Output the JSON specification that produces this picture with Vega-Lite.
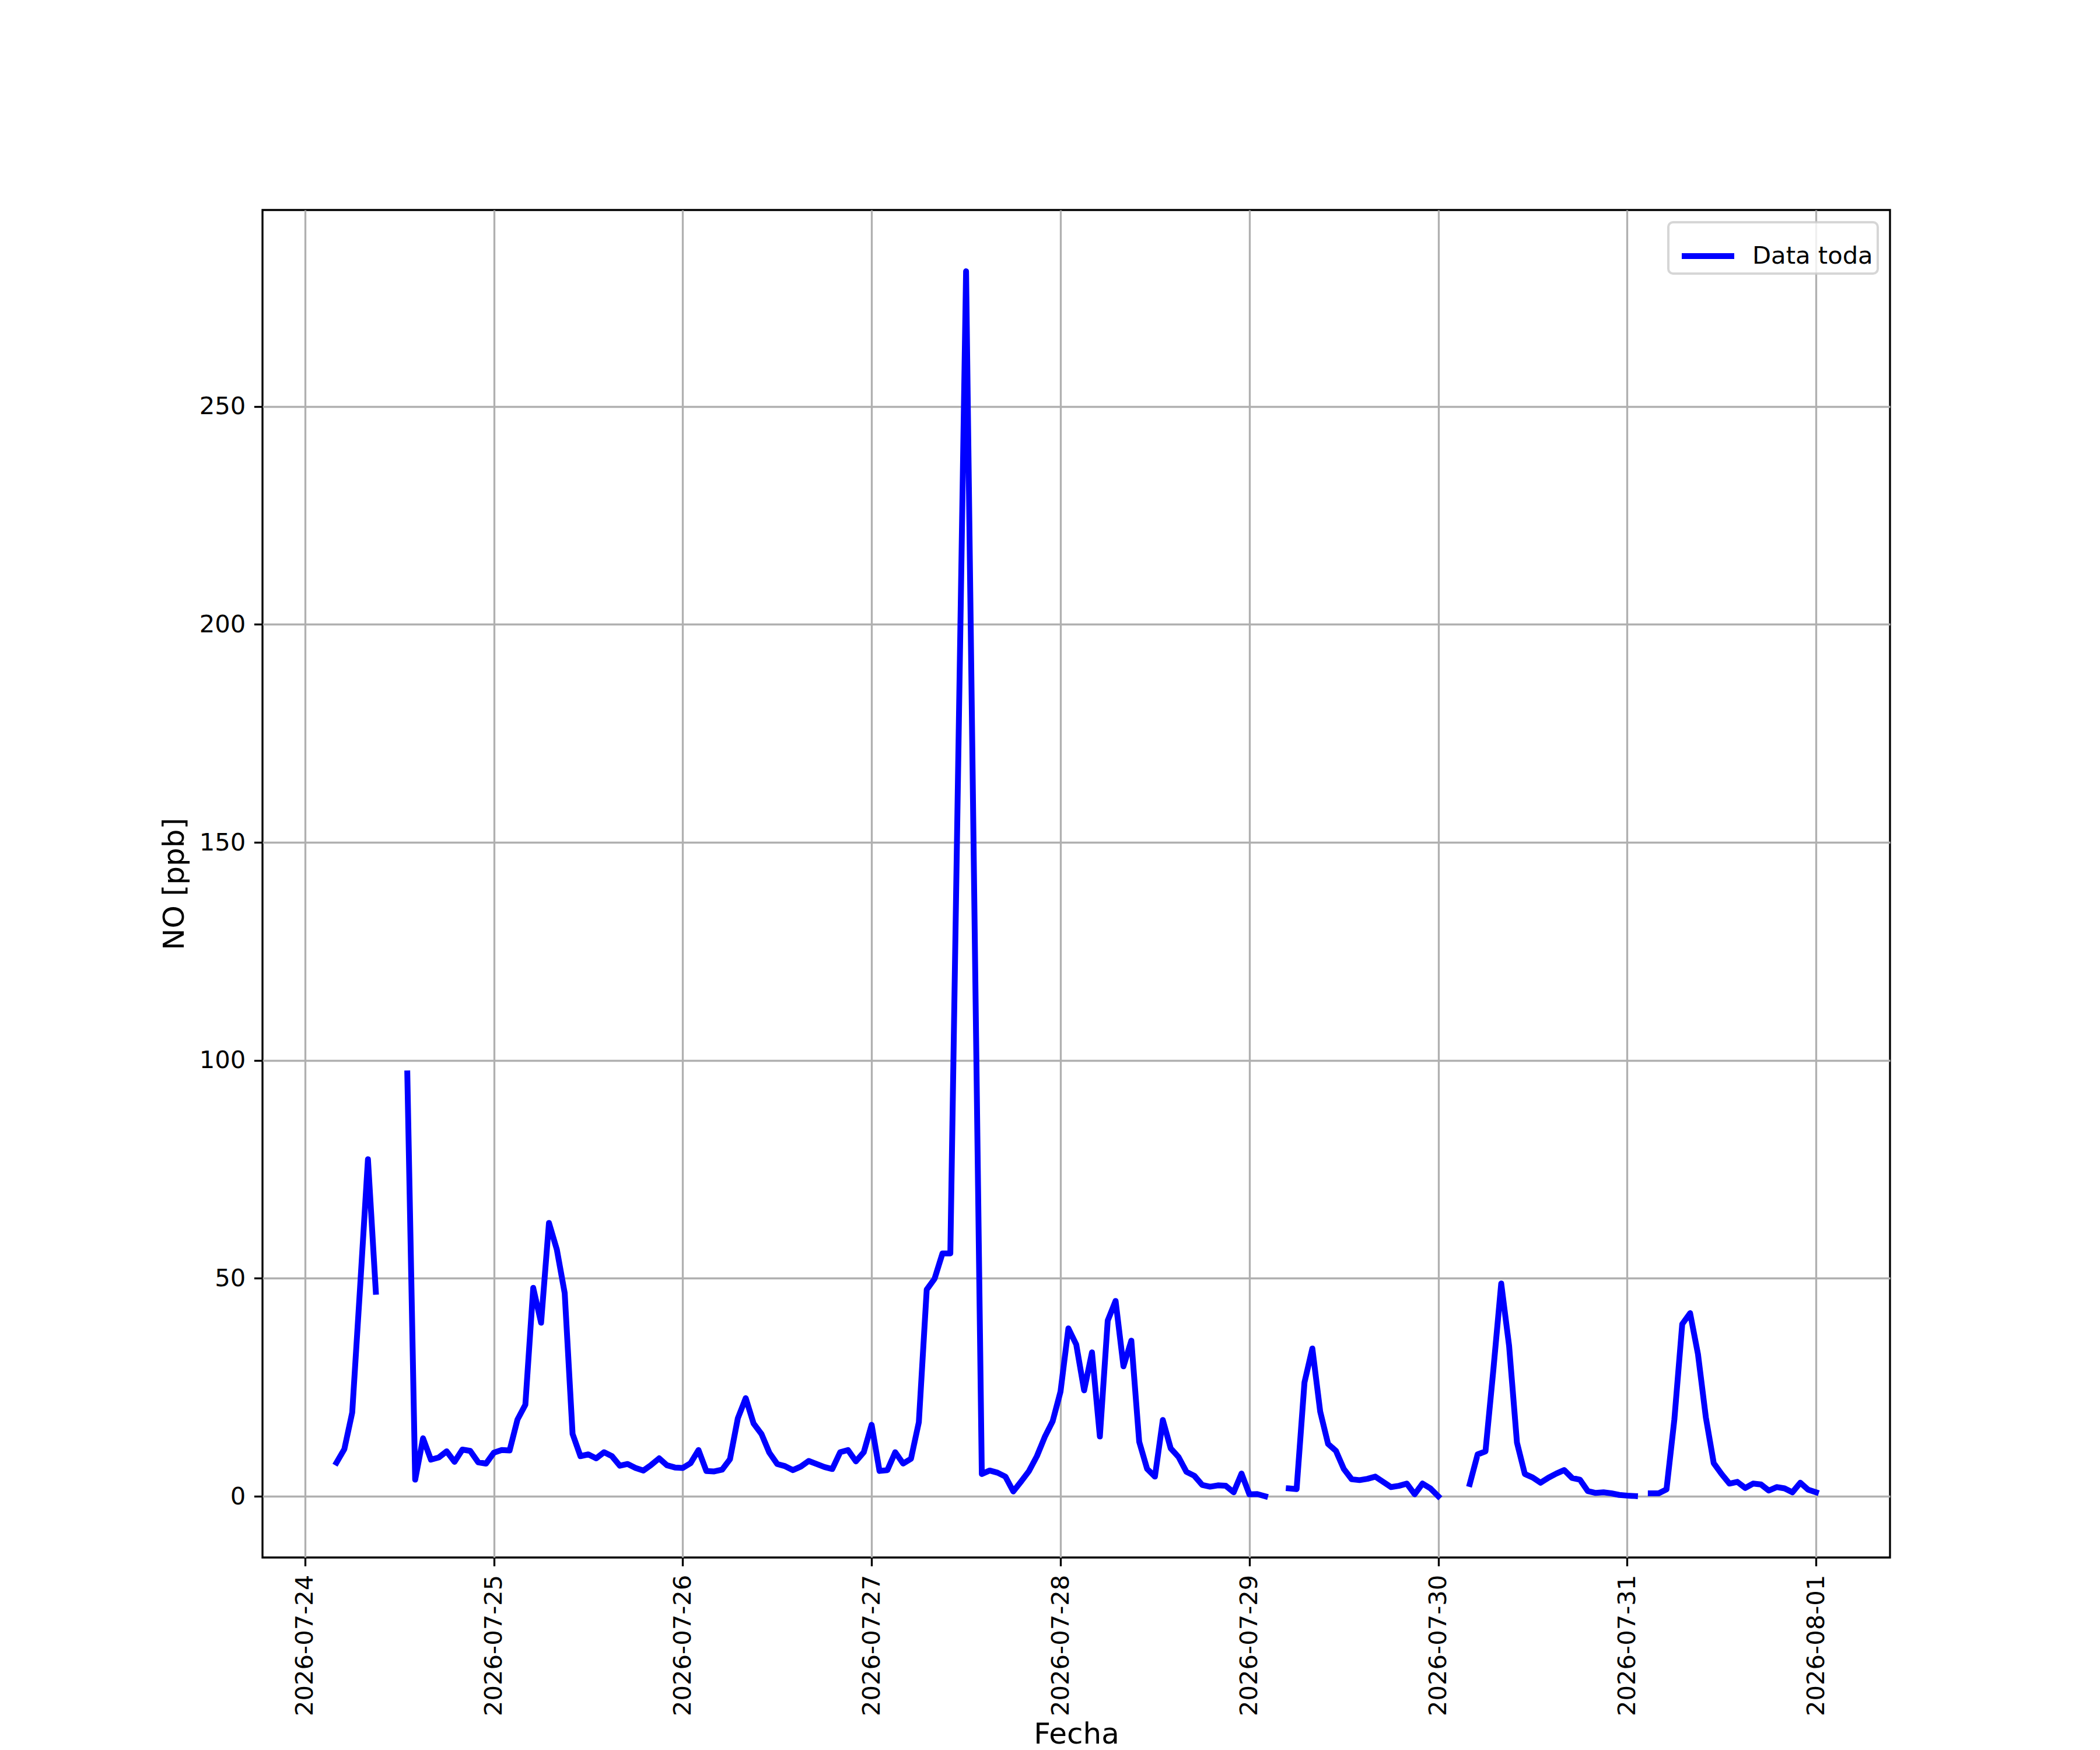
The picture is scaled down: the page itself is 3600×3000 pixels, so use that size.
{
  "$schema": "https://vega.github.io/schema/vega-lite/v6.json",
  "width": 2790,
  "height": 2310,
  "autosize": {"type": "none"},
  "padding": {"left": 450, "top": 360, "right": 360, "bottom": 330},
  "background": "white",
  "config": {
    "font": "DejaVu Sans",
    "view": {"stroke": "black", "strokeWidth": 3.33},
    "axis": {
      "domain": false,
      "grid": true,
      "gridColor": "#b0b0b0",
      "gridWidth": 3.33,
      "gridOpacity": 1,
      "tickColor": "black",
      "tickSize": 14.6,
      "tickWidth": 3.33,
      "labelPadding": 14.6,
      "labelFont": "DejaVu Sans",
      "labelFontSize": 41.7,
      "labelColor": "black",
      "labelLimit": 0,
      "titleFont": "DejaVu Sans",
      "titleFontSize": 50,
      "titleFontWeight": "normal",
      "titleColor": "black",
      "titlePadding": 16.7
    }
  },
  "data": {
    "values": [
      {"fecha": "2026-07-24T04:00:00Z", "no": 7.7},
      {"fecha": "2026-07-24T05:00:00Z", "no": 10.8},
      {"fecha": "2026-07-24T06:00:00Z", "no": 19.2},
      {"fecha": "2026-07-24T07:00:00Z", "no": 47.9},
      {"fecha": "2026-07-24T08:00:00Z", "no": 77.3},
      {"fecha": "2026-07-24T09:00:00Z", "no": 46.9},
      {"fecha": "2026-07-24T10:00:00Z", "no": null},
      {"fecha": "2026-07-24T11:00:00Z", "no": null},
      {"fecha": "2026-07-24T12:00:00Z", "no": null},
      {"fecha": "2026-07-24T13:00:00Z", "no": 97.0},
      {"fecha": "2026-07-24T14:00:00Z", "no": 3.8},
      {"fecha": "2026-07-24T15:00:00Z", "no": 13.3},
      {"fecha": "2026-07-24T16:00:00Z", "no": 8.4},
      {"fecha": "2026-07-24T17:00:00Z", "no": 8.9},
      {"fecha": "2026-07-24T18:00:00Z", "no": 10.3},
      {"fecha": "2026-07-24T19:00:00Z", "no": 7.9},
      {"fecha": "2026-07-24T20:00:00Z", "no": 10.7},
      {"fecha": "2026-07-24T21:00:00Z", "no": 10.4},
      {"fecha": "2026-07-24T22:00:00Z", "no": 7.8},
      {"fecha": "2026-07-24T23:00:00Z", "no": 7.5},
      {"fecha": "2026-07-25T00:00:00Z", "no": 10.0},
      {"fecha": "2026-07-25T01:00:00Z", "no": 10.6},
      {"fecha": "2026-07-25T02:00:00Z", "no": 10.5},
      {"fecha": "2026-07-25T03:00:00Z", "no": 17.6},
      {"fecha": "2026-07-25T04:00:00Z", "no": 21.0},
      {"fecha": "2026-07-25T05:00:00Z", "no": 47.8},
      {"fecha": "2026-07-25T06:00:00Z", "no": 39.8},
      {"fecha": "2026-07-25T07:00:00Z", "no": 62.7},
      {"fecha": "2026-07-25T08:00:00Z", "no": 56.6},
      {"fecha": "2026-07-25T09:00:00Z", "no": 46.6},
      {"fecha": "2026-07-25T10:00:00Z", "no": 14.3},
      {"fecha": "2026-07-25T11:00:00Z", "no": 9.2},
      {"fecha": "2026-07-25T12:00:00Z", "no": 9.6},
      {"fecha": "2026-07-25T13:00:00Z", "no": 8.7},
      {"fecha": "2026-07-25T14:00:00Z", "no": 10.1},
      {"fecha": "2026-07-25T15:00:00Z", "no": 9.2},
      {"fecha": "2026-07-25T16:00:00Z", "no": 7.0},
      {"fecha": "2026-07-25T17:00:00Z", "no": 7.4},
      {"fecha": "2026-07-25T18:00:00Z", "no": 6.5},
      {"fecha": "2026-07-25T19:00:00Z", "no": 5.9},
      {"fecha": "2026-07-25T20:00:00Z", "no": 7.2},
      {"fecha": "2026-07-25T21:00:00Z", "no": 8.7},
      {"fecha": "2026-07-25T22:00:00Z", "no": 7.1},
      {"fecha": "2026-07-25T23:00:00Z", "no": 6.6},
      {"fecha": "2026-07-26T00:00:00Z", "no": 6.5},
      {"fecha": "2026-07-26T01:00:00Z", "no": 7.6},
      {"fecha": "2026-07-26T02:00:00Z", "no": 10.6},
      {"fecha": "2026-07-26T03:00:00Z", "no": 5.8},
      {"fecha": "2026-07-26T04:00:00Z", "no": 5.7},
      {"fecha": "2026-07-26T05:00:00Z", "no": 6.1},
      {"fecha": "2026-07-26T06:00:00Z", "no": 8.5},
      {"fecha": "2026-07-26T07:00:00Z", "no": 17.9},
      {"fecha": "2026-07-26T08:00:00Z", "no": 22.5},
      {"fecha": "2026-07-26T09:00:00Z", "no": 16.7},
      {"fecha": "2026-07-26T10:00:00Z", "no": 14.3},
      {"fecha": "2026-07-26T11:00:00Z", "no": 10.0},
      {"fecha": "2026-07-26T12:00:00Z", "no": 7.4},
      {"fecha": "2026-07-26T13:00:00Z", "no": 6.9},
      {"fecha": "2026-07-26T14:00:00Z", "no": 6.0},
      {"fecha": "2026-07-26T15:00:00Z", "no": 6.8},
      {"fecha": "2026-07-26T16:00:00Z", "no": 8.1},
      {"fecha": "2026-07-26T17:00:00Z", "no": 7.4},
      {"fecha": "2026-07-26T18:00:00Z", "no": 6.7},
      {"fecha": "2026-07-26T19:00:00Z", "no": 6.25},
      {"fecha": "2026-07-26T20:00:00Z", "no": 10.1},
      {"fecha": "2026-07-26T21:00:00Z", "no": 10.6},
      {"fecha": "2026-07-26T22:00:00Z", "no": 8.0},
      {"fecha": "2026-07-26T23:00:00Z", "no": 10.1},
      {"fecha": "2026-07-27T00:00:00Z", "no": 16.4},
      {"fecha": "2026-07-27T01:00:00Z", "no": 5.8},
      {"fecha": "2026-07-27T02:00:00Z", "no": 6.0},
      {"fecha": "2026-07-27T03:00:00Z", "no": 10.1},
      {"fecha": "2026-07-27T04:00:00Z", "no": 7.5},
      {"fecha": "2026-07-27T05:00:00Z", "no": 8.6},
      {"fecha": "2026-07-27T06:00:00Z", "no": 17.0},
      {"fecha": "2026-07-27T07:00:00Z", "no": 47.4},
      {"fecha": "2026-07-27T08:00:00Z", "no": 49.9},
      {"fecha": "2026-07-27T09:00:00Z", "no": 55.7},
      {"fecha": "2026-07-27T10:00:00Z", "no": 55.7},
      {"fecha": "2026-07-27T11:00:00Z", "no": 168.0},
      {"fecha": "2026-07-27T12:00:00Z", "no": 281.0},
      {"fecha": "2026-07-27T13:00:00Z", "no": 143.0},
      {"fecha": "2026-07-27T14:00:00Z", "no": 5.1},
      {"fecha": "2026-07-27T15:00:00Z", "no": 5.9},
      {"fecha": "2026-07-27T16:00:00Z", "no": 5.4},
      {"fecha": "2026-07-27T17:00:00Z", "no": 4.5},
      {"fecha": "2026-07-27T18:00:00Z", "no": 1.1},
      {"fecha": "2026-07-27T19:00:00Z", "no": 3.4},
      {"fecha": "2026-07-27T20:00:00Z", "no": 5.8},
      {"fecha": "2026-07-27T21:00:00Z", "no": 9.2},
      {"fecha": "2026-07-27T22:00:00Z", "no": 13.6},
      {"fecha": "2026-07-27T23:00:00Z", "no": 17.2},
      {"fecha": "2026-07-28T00:00:00Z", "no": 24.0},
      {"fecha": "2026-07-28T01:00:00Z", "no": 38.5},
      {"fecha": "2026-07-28T02:00:00Z", "no": 34.8},
      {"fecha": "2026-07-28T03:00:00Z", "no": 24.3},
      {"fecha": "2026-07-28T04:00:00Z", "no": 33.0},
      {"fecha": "2026-07-28T05:00:00Z", "no": 13.7},
      {"fecha": "2026-07-28T06:00:00Z", "no": 40.3},
      {"fecha": "2026-07-28T07:00:00Z", "no": 44.8},
      {"fecha": "2026-07-28T08:00:00Z", "no": 29.8},
      {"fecha": "2026-07-28T09:00:00Z", "no": 35.7},
      {"fecha": "2026-07-28T10:00:00Z", "no": 12.5},
      {"fecha": "2026-07-28T11:00:00Z", "no": 6.3},
      {"fecha": "2026-07-28T12:00:00Z", "no": 4.5},
      {"fecha": "2026-07-28T13:00:00Z", "no": 17.5},
      {"fecha": "2026-07-28T14:00:00Z", "no": 11.0},
      {"fecha": "2026-07-28T15:00:00Z", "no": 9.0},
      {"fecha": "2026-07-28T16:00:00Z", "no": 5.6},
      {"fecha": "2026-07-28T17:00:00Z", "no": 4.7},
      {"fecha": "2026-07-28T18:00:00Z", "no": 2.6},
      {"fecha": "2026-07-28T19:00:00Z", "no": 2.2},
      {"fecha": "2026-07-28T20:00:00Z", "no": 2.5},
      {"fecha": "2026-07-28T21:00:00Z", "no": 2.4},
      {"fecha": "2026-07-28T22:00:00Z", "no": 0.9},
      {"fecha": "2026-07-28T23:00:00Z", "no": 5.2},
      {"fecha": "2026-07-29T00:00:00Z", "no": 0.45},
      {"fecha": "2026-07-29T01:00:00Z", "no": 0.5},
      {"fecha": "2026-07-29T02:00:00Z", "no": 0.0},
      {"fecha": "2026-07-29T03:00:00Z", "no": null},
      {"fecha": "2026-07-29T04:00:00Z", "no": null},
      {"fecha": "2026-07-29T05:00:00Z", "no": 1.8},
      {"fecha": "2026-07-29T06:00:00Z", "no": 1.65},
      {"fecha": "2026-07-29T07:00:00Z", "no": 26.1},
      {"fecha": "2026-07-29T08:00:00Z", "no": 33.9},
      {"fecha": "2026-07-29T09:00:00Z", "no": 19.4},
      {"fecha": "2026-07-29T10:00:00Z", "no": 12.0},
      {"fecha": "2026-07-29T11:00:00Z", "no": 10.4},
      {"fecha": "2026-07-29T12:00:00Z", "no": 6.25},
      {"fecha": "2026-07-29T13:00:00Z", "no": 3.9},
      {"fecha": "2026-07-29T14:00:00Z", "no": 3.7},
      {"fecha": "2026-07-29T15:00:00Z", "no": 4.0},
      {"fecha": "2026-07-29T16:00:00Z", "no": 4.5},
      {"fecha": "2026-07-29T17:00:00Z", "no": 3.3},
      {"fecha": "2026-07-29T18:00:00Z", "no": 2.1},
      {"fecha": "2026-07-29T19:00:00Z", "no": 2.4},
      {"fecha": "2026-07-29T20:00:00Z", "no": 2.9},
      {"fecha": "2026-07-29T21:00:00Z", "no": 0.45},
      {"fecha": "2026-07-29T22:00:00Z", "no": 2.9},
      {"fecha": "2026-07-29T23:00:00Z", "no": 1.8},
      {"fecha": "2026-07-30T00:00:00Z", "no": 0.0},
      {"fecha": "2026-07-30T01:00:00Z", "no": null},
      {"fecha": "2026-07-30T02:00:00Z", "no": null},
      {"fecha": "2026-07-30T03:00:00Z", "no": null},
      {"fecha": "2026-07-30T04:00:00Z", "no": 2.8},
      {"fecha": "2026-07-30T05:00:00Z", "no": 9.6},
      {"fecha": "2026-07-30T06:00:00Z", "no": 10.3},
      {"fecha": "2026-07-30T07:00:00Z", "no": 29.0},
      {"fecha": "2026-07-30T08:00:00Z", "no": 48.8},
      {"fecha": "2026-07-30T09:00:00Z", "no": 34.5},
      {"fecha": "2026-07-30T10:00:00Z", "no": 12.3},
      {"fecha": "2026-07-30T11:00:00Z", "no": 5.1},
      {"fecha": "2026-07-30T12:00:00Z", "no": 4.3},
      {"fecha": "2026-07-30T13:00:00Z", "no": 3.1},
      {"fecha": "2026-07-30T14:00:00Z", "no": 4.25},
      {"fecha": "2026-07-30T15:00:00Z", "no": 5.2},
      {"fecha": "2026-07-30T16:00:00Z", "no": 6.0},
      {"fecha": "2026-07-30T17:00:00Z", "no": 4.2},
      {"fecha": "2026-07-30T18:00:00Z", "no": 3.8},
      {"fecha": "2026-07-30T19:00:00Z", "no": 1.2},
      {"fecha": "2026-07-30T20:00:00Z", "no": 0.76},
      {"fecha": "2026-07-30T21:00:00Z", "no": 0.9},
      {"fecha": "2026-07-30T22:00:00Z", "no": 0.67},
      {"fecha": "2026-07-30T23:00:00Z", "no": 0.3},
      {"fecha": "2026-07-31T00:00:00Z", "no": 0.15},
      {"fecha": "2026-07-31T01:00:00Z", "no": 0.05},
      {"fecha": "2026-07-31T02:00:00Z", "no": null},
      {"fecha": "2026-07-31T03:00:00Z", "no": 0.67},
      {"fecha": "2026-07-31T04:00:00Z", "no": 0.67},
      {"fecha": "2026-07-31T05:00:00Z", "no": 1.56},
      {"fecha": "2026-07-31T06:00:00Z", "no": 17.6},
      {"fecha": "2026-07-31T07:00:00Z", "no": 39.5},
      {"fecha": "2026-07-31T08:00:00Z", "no": 42.0},
      {"fecha": "2026-07-31T09:00:00Z", "no": 32.6},
      {"fecha": "2026-07-31T10:00:00Z", "no": 18.1},
      {"fecha": "2026-07-31T11:00:00Z", "no": 7.6},
      {"fecha": "2026-07-31T12:00:00Z", "no": 5.1},
      {"fecha": "2026-07-31T13:00:00Z", "no": 2.9},
      {"fecha": "2026-07-31T14:00:00Z", "no": 3.3},
      {"fecha": "2026-07-31T15:00:00Z", "no": 1.9},
      {"fecha": "2026-07-31T16:00:00Z", "no": 2.9},
      {"fecha": "2026-07-31T17:00:00Z", "no": 2.7},
      {"fecha": "2026-07-31T18:00:00Z", "no": 1.3},
      {"fecha": "2026-07-31T19:00:00Z", "no": 2.1},
      {"fecha": "2026-07-31T20:00:00Z", "no": 1.8},
      {"fecha": "2026-07-31T21:00:00Z", "no": 0.9},
      {"fecha": "2026-07-31T22:00:00Z", "no": 3.1},
      {"fecha": "2026-07-31T23:00:00Z", "no": 1.5},
      {"fecha": "2026-08-01T00:00:00Z", "no": 0.9}
    ]
  },
  "mark": {
    "type": "line",
    "strokeWidth": 10,
    "strokeCap": "square",
    "strokeJoin": "round",
    "invalid": "break-paths-show-domains"
  },
  "encoding": {
    "x": {
      "field": "fecha",
      "type": "temporal",
      "title": "Fecha",
      "scale": {
        "type": "utc",
        "domain": [
          {"year": 2026, "month": 7, "date": 23, "hours": 18, "minutes": 36, "utc": true},
          {"year": 2026, "month": 8, "date": 1, "hours": 9, "minutes": 24, "utc": true}
        ]
      },
      "axis": {
        "values": [
          {"year": 2026, "month": 7, "date": 24, "utc": true},
          {"year": 2026, "month": 7, "date": 25, "utc": true},
          {"year": 2026, "month": 7, "date": 26, "utc": true},
          {"year": 2026, "month": 7, "date": 27, "utc": true},
          {"year": 2026, "month": 7, "date": 28, "utc": true},
          {"year": 2026, "month": 7, "date": 29, "utc": true},
          {"year": 2026, "month": 7, "date": 30, "utc": true},
          {"year": 2026, "month": 7, "date": 31, "utc": true},
          {"year": 2026, "month": 8, "date": 1, "utc": true}
        ],
        "format": "%Y-%m-%d",
        "labelAngle": 270,
        "labelAlign": "right",
        "labelBaseline": "middle",
        "labelFlush": false,
        "labelOverlap": false,
        "labelLimit": 0,
        "titlePadding": 78
      }
    },
    "y": {
      "field": "no",
      "type": "quantitative",
      "title": "NO [ppb]",
      "scale": {"domain": [-14.05, 295.05], "nice": false, "zero": false},
      "axis": {"values": [0, 50, 100, 150, 200, 250], "labelFlush": false}
    },
    "color": {
      "datum": "Data toda",
      "type": "nominal",
      "scale": {"range": ["#0000ff"]},
      "legend": {
        "title": null,
        "orient": "top-right",
        "offset": 21,
        "padding": 8,
        "symbolType": "stroke",
        "symbolSize": 8100,
        "symbolStrokeWidth": 10,
        "symbolOffset": 10,
        "labelFont": "DejaVu Sans",
        "labelFontSize": 41.7,
        "labelColor": "black",
        "labelLimit": 0,
        "labelOffset": 26,
        "fillColor": "rgba(255,255,255,0.8)",
        "strokeColor": "rgba(204,204,204,0.8)",
        "cornerRadius": 8,
        "encode": {"legend": {"update": {"strokeWidth": {"value": 4}}}}
      }
    }
  }
}
